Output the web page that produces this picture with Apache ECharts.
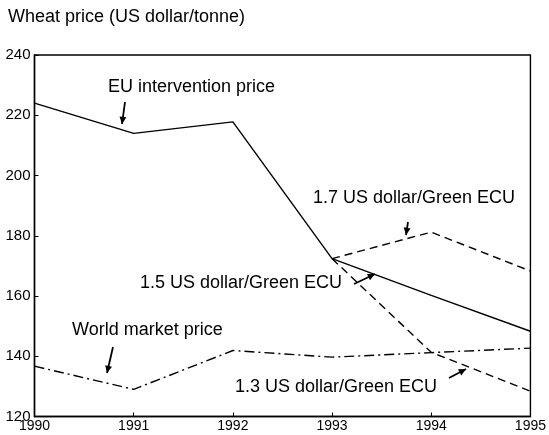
<!DOCTYPE html>
<html>
<head>
<meta charset="utf-8">
<script src="https://cdn.jsdelivr.net/npm/echarts@6/dist/echarts.min.js"></script>
<style>
  html, body { margin: 0; padding: 0; background: #fff; }
  #chart { width: 549px; height: 435px; }
</style>
</head>
<body>
<div id="chart"></div>
<script>
const years = ["1990", "1991", "1992", "1993", "1994", "1995"];
const euIntervention = [224, 214, 217.8, 172.4, 160.2, 148.3];
const ecu17 = [null, null, null, 172.4, 181.2, 168.3];
const ecu13 = [null, null, null, 172.4, 141.3, 128.4];
const worldMarket = [136.7, 129, 141.9, 139.7, 141.2, 142.7];

const font = "Liberation Sans, Arial, sans-serif";

function label(text, x, y) {
  return {
    type: "text",
    left: x,
    top: y,
    style: { text: text, font: "18px " + font, fill: "#000" },
  };
}

// small hand-drawn style arrow: shaft + head
function arrow(x1, y1, x2, y2) {
  const a = Math.atan2(y2 - y1, x2 - x1);
  const h = 8, w = 0.45;
  return [
    { type: "line", shape: { x1: x1, y1: y1, x2: x2, y2: y2 }, style: { stroke: "#000", lineWidth: 1.8 } },
    {
      type: "polygon",
      shape: {
        points: [
          [x2, y2],
          [x2 - h * Math.cos(a - w), y2 - h * Math.sin(a - w)],
          [x2 - h * Math.cos(a + w), y2 - h * Math.sin(a + w)],
        ],
      },
      style: { fill: "#000" },
    },
  ];
}

const line = (name, data, type) => ({
  name: name,
  type: "line",
  data: data,
  symbol: "none",
  connectNulls: false,
  lineStyle: { color: "#000", width: 1.4, type: type },
  z: 3,
});

const chart = echarts.init(document.getElementById("chart"));
chart.setOption({
  animation: false,
  backgroundColor: "#fff",
  grid: {
    left: 34.5, right: 15, top: 55, bottom: 18.5,
    show: true, borderColor: "#000", borderWidth: 1.4,
  },
  xAxis: {
    type: "category",
    data: years,
    boundaryGap: false,
    axisLine: { lineStyle: { color: "#000", width: 1.4 } },
    axisTick: { inside: true, length: 4, lineStyle: { color: "#000" } },
    axisLabel: { color: "#000", fontSize: 14, fontFamily: font, margin: 3 },
    splitLine: { show: false },
  },
  yAxis: {
    type: "value",
    min: 120, max: 240, interval: 20,
    axisLine: { show: true, lineStyle: { color: "#000", width: 1.4 } },
    axisTick: { show: true, inside: true, length: 4, lineStyle: { color: "#000" } },
    axisLabel: { color: "#000", fontSize: 15, fontFamily: font, margin: 4 },
    splitLine: { show: false },
  },
  series: [
    line("EU intervention price", euIntervention, "solid"),
    line("1.7 US dollar/Green ECU", ecu17, [8, 5]),
    line("1.3 US dollar/Green ECU", ecu13, [8, 5]),
    line("World market price", worldMarket, [10, 4, 2, 4]),
  ],
  graphic: [
    {
      type: "text", left: 8, top: 8,
      style: { text: "Wheat price (US dollar/tonne)", font: "18px " + font, fill: "#000" },
    },
    label("EU intervention price", 108, 78),
    label("1.7 US dollar/Green ECU", 313, 189),
    label("1.5 US dollar/Green ECU", 140, 274),
    label("1.3 US dollar/Green ECU", 235, 378),
    label("World market price", 72, 321),
  ].concat(
    arrow(125, 102, 122, 124),
    arrow(408, 222, 406, 235),
    arrow(354, 284, 375, 274),
    arrow(449, 378, 466, 369),
    arrow(113, 347, 107, 373)
  ),
});
</script>
</body>
</html>
